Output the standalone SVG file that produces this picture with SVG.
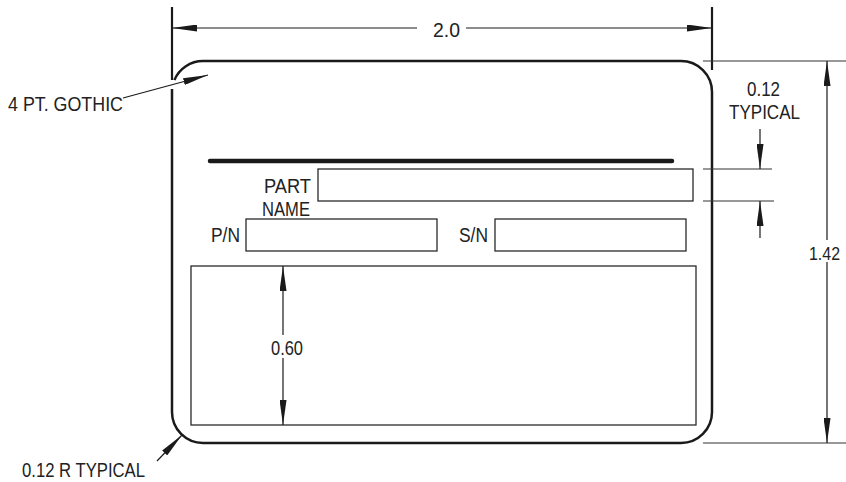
<svg xmlns="http://www.w3.org/2000/svg" width="846" height="482" viewBox="0 0 846 482">
<style>
text{font-family:"Liberation Sans",Arial,sans-serif;font-size:20px;fill:#222}
.card{fill:none;stroke:#1a1a1a;stroke-width:2.5}
.box{fill:none;stroke:#2a2a2a;stroke-width:1.3}
.dim{fill:none;stroke:#1a1a1a;stroke-width:1.2}
.ext{fill:none;stroke:#1a1a1a;stroke-width:2.2}
.thin{fill:none;stroke:#333;stroke-width:1.1}
.bar{stroke:#1a1a1a;stroke-width:4.5;stroke-linecap:round}
</style>
<defs>
<marker id="arr" viewBox="0 0 25 7" refX="25" refY="3.5" markerWidth="25" markerHeight="7" markerUnits="userSpaceOnUse" orient="auto-start-reverse">
<path d="M0,0 L25,3.5 L0,7 z" fill="#1a1a1a"/>
</marker>
</defs>
<rect width="846" height="482" fill="#fff"/>
<g id="card">
<path class="card" d="M174.4,80 A31,31 0 0 1 203,61 H681 A31,31 0 0 1 712,92 V412 A31,31 0 0 1 681,443 H203 A31,31 0 0 1 172,412 V89"/>
<line class="bar" x1="210" y1="161" x2="672" y2="161"/>
</g>
<g id="part-name">
<rect class="box" x="318" y="169" width="375" height="32"/>
<text x="264" y="193" textLength="47" lengthAdjust="spacingAndGlyphs">PART</text>
<text x="262" y="216" textLength="48" lengthAdjust="spacingAndGlyphs">NAME</text>
</g>
<g id="pn">
<rect class="box" x="246" y="219" width="191" height="32"/>
<text x="211" y="242" textLength="29" lengthAdjust="spacingAndGlyphs">P/N</text>
</g>
<g id="sn">
<rect class="box" x="495" y="219" width="191" height="32"/>
<text x="459" y="242" textLength="29" lengthAdjust="spacingAndGlyphs">S/N</text>
</g>
<g id="area">
<rect class="box" x="191" y="266" width="505" height="159"/>
</g>
<g id="connectors">
<line class="ext" x1="172" y1="7" x2="172" y2="80"/>
<line class="ext" x1="712" y1="7" x2="712" y2="70"/>
<line class="thin" x1="703" y1="61" x2="846" y2="61"/>
<line class="thin" x1="703" y1="443" x2="846" y2="443"/>
<line class="thin" x1="703" y1="169" x2="772" y2="169"/>
<line class="thin" x1="703" y1="201" x2="774" y2="201"/>
<line class="dim" x1="172" y1="28" x2="417" y2="28" marker-start="url(#arr)"/>
<line class="dim" x1="466" y1="28" x2="712" y2="28" marker-end="url(#arr)"/>
<line class="dim" x1="827" y1="61" x2="827" y2="240" marker-start="url(#arr)"/>
<line class="dim" x1="827" y1="262" x2="827" y2="443" marker-end="url(#arr)"/>
<line class="dim" x1="283" y1="266" x2="283" y2="335" marker-start="url(#arr)"/>
<line class="dim" x1="283" y1="358" x2="283" y2="425" marker-end="url(#arr)"/>
<line class="dim" x1="760" y1="129" x2="760" y2="169" marker-end="url(#arr)"/>
<line class="dim" x1="760" y1="238" x2="760" y2="201" marker-end="url(#arr)"/>
<line class="dim" x1="123" y1="98" x2="208" y2="75" marker-end="url(#arr)"/>
<line class="dim" x1="157" y1="461" x2="182" y2="435" marker-end="url(#arr)"/>
</g>
<g id="labels">
<text x="433" y="37" textLength="27" lengthAdjust="spacingAndGlyphs">2.0</text>
<text x="8" y="111" textLength="115" lengthAdjust="spacingAndGlyphs">4 PT. GOTHIC</text>
<text x="22" y="477" textLength="123" lengthAdjust="spacingAndGlyphs">0.12 R TYPICAL</text>
<text x="271" y="355" textLength="32" lengthAdjust="spacingAndGlyphs">0.60</text>
<text x="809" y="260" style="font-size:18px" textLength="31" lengthAdjust="spacingAndGlyphs">1.42</text>
<text x="747" y="96" textLength="33" lengthAdjust="spacingAndGlyphs">0.12</text>
<text x="729" y="119" textLength="71" lengthAdjust="spacingAndGlyphs">TYPICAL</text>
</g>
</svg>
